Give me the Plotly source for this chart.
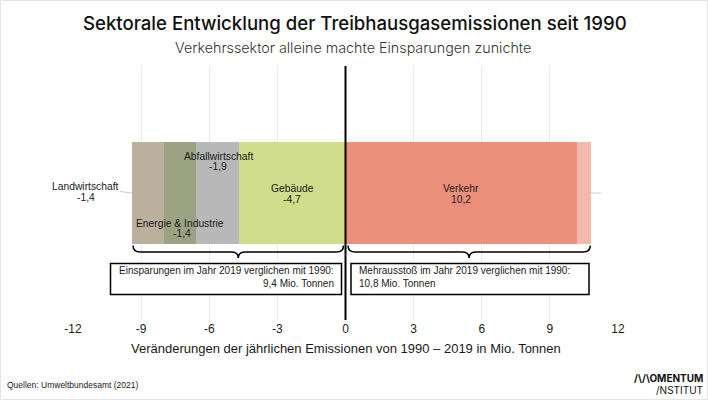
import plotly.graph_objects as go

# ---- data ----
sectors = ["Gebäude", "Abfallwirtschaft", "Energie & Industrie", "Landwirtschaft", "Verkehr", "Fluorierte Gase"]
values = [-4.7, -1.9, -1.4, -1.4, 10.2, 0.6]
colors = ["#D0DD8C", "#B8B8B8", "#9CA382", "#BBB09D", "#EC8F7B", "#F4B9AD"]
tick_vals = [-12, -9, -6, -3, 0, 3, 6, 9, 12]
tick_text = ["-12", "-9", "-6", "-3", "0", "3", "6", "9", "12"]

W, H = 708, 400
L, R, T, B = 73, 90, 66, 80
PW, PH = W - L - R, H - T - B
XMIN, XMAX = -12, 12
PXU = PW / (XMAX - XMIN)

def px2x(p):
    return (p - L) / PXU + XMIN

def px2xp(p):
    return (p - L) / PW

def py2y(p):
    return (T + PH - p) / PH

def fmt(v):
    return f"{v:.1f}".replace(".", ",")

fig = go.Figure()
for s, v, c in zip(sectors, values, colors):
    fig.add_trace(go.Bar(y=[0.5], x=[v], orientation="h", width=0.4, name=s,
                         marker=dict(color=c, line=dict(width=0)), showlegend=False,
                         hoverinfo="skip"))

neg_total = sum(v for v in values if v < 0)
pos_total = sum(v for v in values if v > 0)

# cumulative bar extents
ext = {}
cn, cp = 0.0, 0.0
for s, v in zip(sectors, values):
    if v < 0:
        ext[s] = (cn + v, cn); cn += v
    else:
        ext[s] = (cp, cp + v); cp += v

def mid(s):
    a, b = ext[s]
    return (a + b) / 2

FONT = "Liberation Sans, Arial, sans-serif"
TC = "#1a1a1a"
ann = []

def txt(x, y, t, size=10.3, xanchor="center", xref="x", yref="paper", align="center", family=FONT, color=TC, weight=None):
    f = dict(family=family, size=size, color=color)
    if weight:
        f["weight"] = weight
    ann.append(dict(x=x, y=y, xref=xref, yref=yref, text=t, showarrow=False,
                    xanchor=xanchor, yanchor="middle", align=align, font=f))

def lbl(s, x, y1, y2):
    v = values[sectors.index(s)]
    txt(x, py2y(y1), s)
    txt(x, py2y(y2), fmt(v))

lbl("Landwirtschaft", px2x(85.5), 186, 197)
lbl("Abfallwirtschaft", px2x(218), 156, 166.5)
txt(px2x(180), py2y(223), "Energie & Industrie")
txt(px2x(182), py2y(233.5), fmt(values[sectors.index("Energie & Industrie")]))
lbl("Gebäude", mid("Gebäude"), 188, 199)
lbl("Verkehr", mid("Verkehr"), 188, 199)
lbl("Fluorierte Gase", px2x(637.5), 188, 199)

# box texts
txt(px2x(335.5), py2y(270), "Einsparungen im Jahr 2019 verglichen mit 1990:", size=10, xanchor="right")
txt(px2x(335.5), py2y(283.5), f"{fmt(-neg_total)} Mio. Tonnen", size=10, xanchor="right")
txt(px2x(357), py2y(270), "Mehrausstoß im Jahr 2019 verglichen mit 1990:", size=10, xanchor="left")
txt(px2x(357), py2y(283.5), f"{fmt(pos_total)} Mio. Tonnen", size=10, xanchor="left")

# axis title
txt(px2xp(346), py2y(348), "Veränderungen der jährlichen Emissionen von 1990 – 2019 in Mio. Tonnen", size=13, xref="paper")

# title / subtitle
txt(px2xp(355), py2y(23), "Sektorale Entwicklung der Treibhausgasemissionen seit 1990", size=18.6, xref="paper", family="Inter, Lato, sans-serif", color="#111", weight=500)
txt(px2xp(353), py2y(48), "Verkehrssektor alleine machte Einsparungen zunichte", size=14.3, xref="paper", family="Inter, Lato, sans-serif", color="#333", weight=300)

# footer
txt(px2xp(5), py2y(385), "Quellen: Umweltbundesamt (2021)", size=8.5, xanchor="left", xref="paper")
txt(px2xp(705), py2y(377.5), "/\\/\\OMENTUM", size=10, xanchor="right", xref="paper", family="Inter, sans-serif", color="#111", weight=700)
txt(px2xp(705), py2y(389.5), "/NSTITUT", size=10, xanchor="right", xref="paper", family="Inter, sans-serif", color="#111", weight=400)

shapes = []
# zero line
shapes.append(dict(type="line", xref="x", yref="paper", x0=0, x1=0, y0=0, y1=1,
                   line=dict(color="black", width=2), layer="above"))
# leader lines
shapes.append(dict(type="line", xref="x", yref="paper", x0=px2x(120), x1=ext["Landwirtschaft"][0],
                   y0=py2y(191.5), y1=py2y(193), line=dict(color="#cccccc", width=1)))
shapes.append(dict(type="line", xref="x", yref="paper", x0=ext["Fluorierte Gase"][1], x1=px2x(601),
                   y0=py2y(193), y1=py2y(193), line=dict(color="#cccccc", width=1)))

# braces (in pixel space then converted)
def brace(xa, xb):
    ya, ym, yb = 245.5, 252, 258
    r = 7
    xc = (xa + xb) / 2
    pts = [
        f"M {px2x(xa)},{py2y(ya)}",
        f"Q {px2x(xa)},{py2y(ym)} {px2x(xa + r)},{py2y(ym)}",
        f"L {px2x(xc - r)},{py2y(ym)}",
        f"Q {px2x(xc)},{py2y(ym)} {px2x(xc)},{py2y(yb)}",
        f"Q {px2x(xc)},{py2y(ym)} {px2x(xc + r)},{py2y(ym)}",
        f"L {px2x(xb - r)},{py2y(ym)}",
        f"Q {px2x(xb)},{py2y(ym)} {px2x(xb)},{py2y(ya)}",
    ]
    return dict(type="path", xref="x", yref="paper", path=" ".join(pts),
                line=dict(color="black", width=1.5))

x_neg_px = L + (neg_total - XMIN) * PXU
x_pos_px = L + (pos_total - XMIN) * PXU
x0_px = L + (0 - XMIN) * PXU
shapes.append(brace(x_neg_px + 1, x0_px - 2))
shapes.append(brace(x0_px + 2.5, x_pos_px - 0.5))

# boxes
for xa, xb in [(110.5, 341.5), (351, 589)]:
    shapes.append(dict(type="rect", xref="x", yref="paper", x0=px2x(xa), x1=px2x(xb),
                       y0=py2y(263.5), y1=py2y(294.5), line=dict(color="black", width=1.5),
                       fillcolor="white"))

# outer light frame
shapes.append(dict(type="rect", xref="paper", yref="paper",
                   x0=px2xp(0.5), x1=px2xp(W - 0.5), y0=py2y(H - 0.5), y1=py2y(0.5),
                   line=dict(color="#e6e6e6", width=1), layer="below"))

fig.update_layout(
    width=W, height=H, margin=dict(l=L, r=R, t=T, b=B),
    paper_bgcolor="white", plot_bgcolor="white",
    barmode="relative", bargap=0,
    xaxis=dict(range=[XMIN, XMAX], tickvals=tick_vals, ticktext=tick_text,
               showgrid=True, gridcolor="#ebebeb", gridwidth=1, zeroline=False,
               showline=False, ticks="", tickfont=dict(family=FONT, size=12, color="#222")),
    yaxis=dict(range=[0, 1], visible=False, fixedrange=True),
    annotations=ann, shapes=shapes, showlegend=False,
)

fig.write_html("out.html", config={"displayModeBar": False},
               post_script="document.body.style.margin='0';document.body.style.overflow='hidden';")
